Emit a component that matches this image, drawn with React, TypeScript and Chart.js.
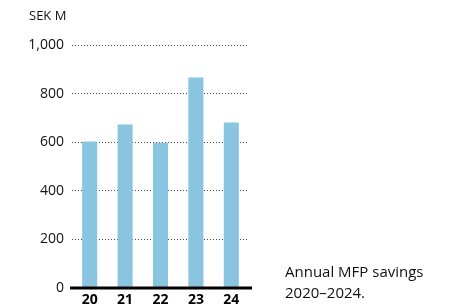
import React, { useEffect, useRef } from "react";
import { Chart, registerables } from "chart.js";

Chart.register(...registerables);

const categories = ["20", "21", "22", "23", "24"];
const savings = [603, 673, 598, 866, 681];
const yTicks = [0, 200, 400, 600, 800, 1000];
const unitLabel = "SEK M";
const captionLines = ["Annual MFP savings", "2020–2024."];

const FONT = "'Open Sans', 'Noto Sans', sans-serif";

const axisLinePlugin = {
  id: "axisLine",
  afterDatasetsDraw(chart: any) {
    const { ctx, chartArea, scales } = chart;
    const y = scales.y.getPixelForValue(0);
    ctx.save();
    ctx.strokeStyle = "#000";
    ctx.lineWidth = 3;
    ctx.beginPath();
    ctx.moveTo(chartArea.left - 2, y);
    ctx.lineTo(chartArea.right + 3, y);
    ctx.stroke();
    ctx.restore();
  },
};

export default function App() {
  const ref = useRef<HTMLCanvasElement | null>(null);
  useEffect(() => {
    if (!ref.current) return;
    const chart = new Chart(ref.current, {
      type: "bar",
      data: {
        labels: categories,
        datasets: [
          {
            data: savings,
            backgroundColor: "#89C4E1",
            borderWidth: 0,
            barPercentage: 0.85,
            categoryPercentage: 0.5,
          },
        ],
      },
      options: {
        animation: false,
        responsive: false,
        maintainAspectRatio: false,
        layout: { padding: { left: 8, right: 212, top: 45, bottom: 0 } },
        plugins: { legend: { display: false }, tooltip: { enabled: false } },
        scales: {
          x: {
            grid: { display: false, drawTicks: false },
            border: { display: false },
            ticks: {
              padding: 4,
              color: "#000",
              font: { family: FONT, size: 14, weight: "bold" },
            },
            afterFit: (s: any) => {
              s.height = 19;
            },
          },
          y: {
            min: 0,
            max: 1000,
            afterBuildTicks: (s: any) => {
              s.ticks = yTicks.map((v) => ({ value: v }));
            },
            afterFit: (s: any) => {
              s.width = 64;
            },
            border: { display: false, dash: [1, 2] },
            grid: {
              drawTicks: false,
              color: (c: any) => (c.tick && c.tick.value === 0 ? "rgba(0,0,0,0)" : "#444"),
              lineWidth: 1,
            },
            ticks: {
              padding: 8,
              color: "#111",
              font: { family: FONT, size: 14 },
              callback: (v: any) => Number(v).toLocaleString("en-US"),
            },
          },
        },
      },
      plugins: [axisLinePlugin],
    } as any);
    return () => chart.destroy();
  }, []);

  return (
    <div style={{ position: "fixed", left: 0, top: 0, width: 461, height: 307, overflow: "hidden", background: "#fff" }}>
      <canvas ref={ref} width={461} height={307} style={{ position: "absolute", left: 0, top: 0, display: "block" }} />
      <div
        style={{
          position: "absolute",
          left: 29,
          top: 5,
          fontFamily: FONT,
          fontSize: 13,
          color: "#111",
          lineHeight: "20px",
        }}
      >
        {unitLabel}
      </div>
      <div
        style={{
          position: "absolute",
          left: 285,
          top: 261,
          fontFamily: FONT,
          fontSize: 15,
          color: "#111",
          lineHeight: "21px",
        }}
      >
        {captionLines.map((l, i) => (
          <div key={i}>{l}</div>
        ))}
      </div>
    </div>
  );
}
